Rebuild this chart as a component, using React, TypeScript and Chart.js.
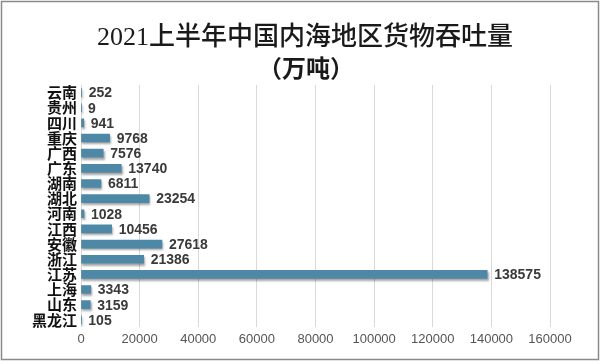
import React, { useEffect, useRef } from "react";
import { Chart, registerables } from "chart.js";

Chart.register(...registerables);

const provinces = ["云南", "贵州", "四川", "重庆", "广西", "广东", "湖南", "湖北", "河南", "江西", "安徽", "浙江", "江苏", "上海", "山东", "黑龙江"];
const throughput = [252, 9, 941, 9768, 7576, 13740, 6811, 23254, 1028, 10456, 27618, 21386, 138575, 3343, 3159, 105];
const titleText = "2021上半年中国内海地区货物吞吐量";
const unitText = "（万吨）";
const xMax = 160000;
const xStep = 20000;

const shadowPlugin = {
  id: "barShadow",
  beforeDatasetsDraw(chart: any) {
    const ctx = chart.ctx;
    ctx.save();
    ctx.shadowColor = "rgba(0,0,0,0.35)";
    ctx.shadowOffsetY = 2;
    ctx.shadowOffsetX = 1;
    ctx.shadowBlur = 2;
  },
  afterDatasetsDraw(chart: any) {
    chart.ctx.restore();
  },
};

const labelPlugin = {
  id: "valueLabels",
  afterDatasetsDraw(chart: any) {
    const ctx = chart.ctx;
    const meta = chart.getDatasetMeta(0);
    const data = chart.data.datasets[0].data as number[];
    ctx.save();
    ctx.font = "bold 14px 'Liberation Sans', Arial, sans-serif";
    ctx.fillStyle = "#3a3a3a";
    ctx.textAlign = "left";
    ctx.textBaseline = "middle";
    meta.data.forEach((bar: any, i: number) => {
      ctx.fillText(String(data[i]), bar.x + 7, bar.y + 1);
    });
    ctx.restore();
  },
};

const headerPlugin = {
  id: "header",
  afterDraw(chart: any) {
    const ctx = chart.ctx;
    ctx.save();
    ctx.fillStyle = "#1a1a1a";
    ctx.textAlign = "center";
    ctx.textBaseline = "middle";
    ctx.font = "500 26px 'Liberation Serif', 'Noto Sans CJK SC', serif";
    ctx.fillText(titleText, 305, 38);
    ctx.font = "bold 24px 'Noto Sans CJK SC', sans-serif";
    ctx.fillText(unitText, 306, 68);
    ctx.strokeStyle = "#8a8a8a";
    ctx.lineWidth = 1.5;
    ctx.strokeRect(1.5, 1.5, chart.width - 3, chart.height - 4);
    ctx.restore();
  },
};

export default function App() {
  const ref = useRef<HTMLCanvasElement | null>(null);
  useEffect(() => {
    document.body.style.margin = "0";
    const canvas = ref.current;
    if (!canvas) return;
    const chart = new Chart(canvas, {
      type: "bar",
      data: {
        labels: provinces,
        datasets: [
          {
            data: throughput,
            backgroundColor: "#4d89a7",
            borderWidth: 0,
            barThickness: 8,
          },
        ],
      },
      options: {
        indexAxis: "y",
        animation: false,
        responsive: false,
        maintainAspectRatio: false,
        layout: { padding: { left: 28, right: 50, top: 85, bottom: 11 } },
        plugins: {
          legend: { display: false },
          tooltip: { enabled: false },
          title: { display: false },
        },
        scales: {
          x: {
            min: 0,
            max: xMax,
            ticks: {
              stepSize: xStep,
              color: "#555",
              padding: 4,
              font: { family: "'Liberation Sans', Arial, sans-serif", size: 13 },
              callback: (v: any) => String(v),
            },
            grid: { color: "#d9d9d9", drawTicks: false },
            border: { display: false },
          },
          y: {
            ticks: {
              autoSkip: false,
              color: "#111",
              padding: 4,
              font: { family: "'Noto Sans CJK SC', sans-serif", size: 15, weight: "bold", lineHeight: 1 },
            },
            grid: { display: false, drawTicks: false },
            border: { display: false },
          },
        },
      },
      plugins: [shadowPlugin, labelPlugin, headerPlugin],
    });
    return () => chart.destroy();
  }, []);
  return (
    <div style={{ position: "absolute", left: 0, top: 0, width: 600, height: 362, background: "#fff" }}>
      <canvas ref={ref} width={600} height={362} style={{ width: 600, height: 362 }} />
    </div>
  );
}
